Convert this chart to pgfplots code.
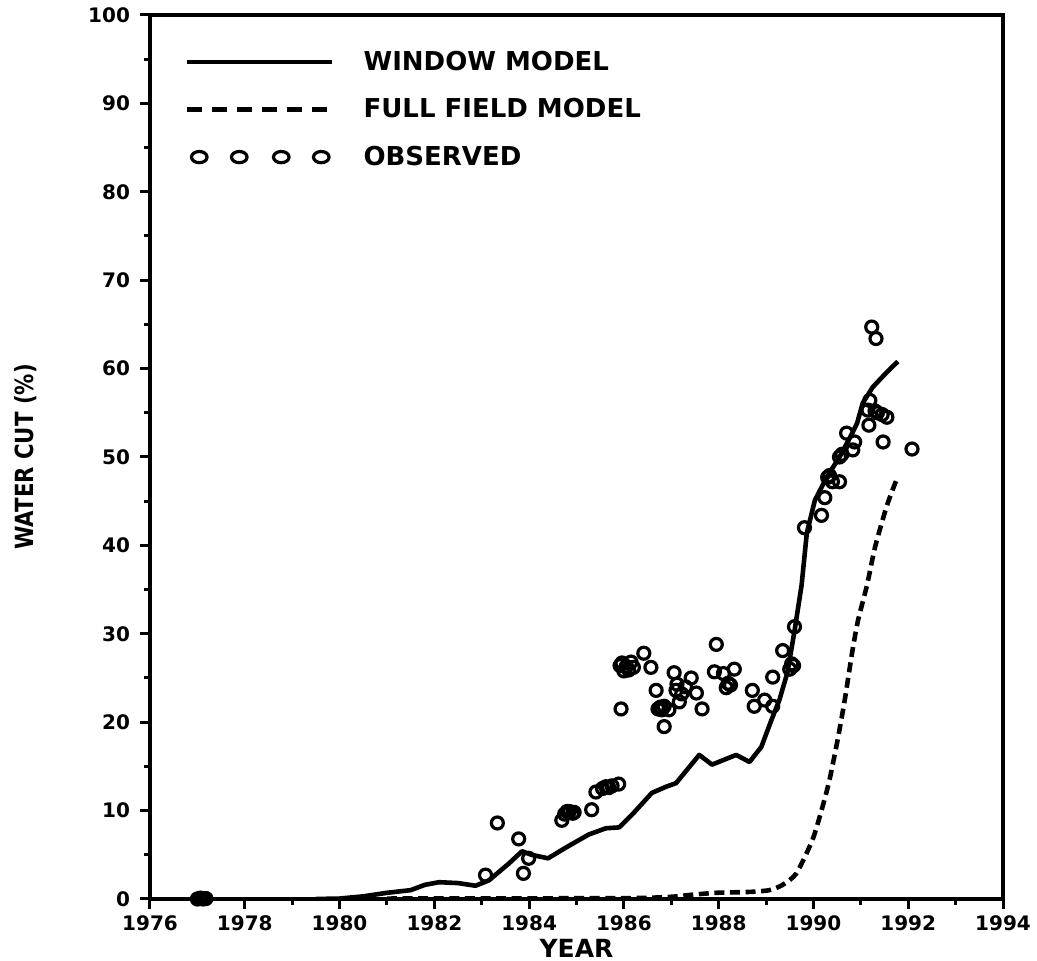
\documentclass[border=0pt]{standalone}
\usepackage{fontspec}
\setmainfont{DejaVu Sans}
\newfontfamily\condfont{DejaVu Sans}[FakeStretch=0.85]
\usepackage{pgfplots}
\pgfplotsset{compat=1.18}

% Legend samples: a long line, and a row of four open circles
\pgfplotsset{
  longline legend/.style={legend image code/.code={\draw[##1] (0pt,0pt) -- (72.5pt,0pt);}},
  circles legend/.style={legend image code/.code={%
    \path (0pt,0pt) (72.5pt,0pt);
    \foreach \x in {6pt,26pt,47pt,67pt}
      {\draw[black, line width=1.6pt] (\x,0pt) ellipse[x radius=3.9pt, y radius=2.8pt];}}},
}

% Simulated and observed water cut
\pgfplotstableread{
year wc
1979.5 0.0
1980.0 0.05
1980.5 0.3
1981.0 0.7
1981.5 1.0
1981.8 1.6
1982.1 1.9
1982.5 1.8
1982.87 1.5
1983.15 2.1
1983.57 4.0
1983.85 5.4
1984.05 5.0
1984.4 4.6
1984.77 5.8
1985.26 7.3
1985.62 8.0
1985.9 8.1
1986.2 9.7
1986.59 12.0
1986.89 12.7
1987.1 13.1
1987.59 16.3
1987.86 15.2
1988.37 16.3
1988.65 15.5
1988.9 17.2
1989.11 20.2
1989.28 22.5
1989.45 25.6
1989.6 30.3
1989.75 35.5
1989.86 41.4
1990.03 45.1
1990.28 47.7
1990.55 50.0
1990.8 52.5
1990.92 53.8
1991.04 56.1
1991.25 57.9
1991.55 59.6
1991.78 60.8
}\windowmodel

\pgfplotstableread{
year wc
1981.0 0.05
1986.0 0.1
1987.0 0.25
1987.38 0.45
1987.95 0.7
1988.65 0.8
1989.07 1.0
1989.35 1.6
1989.64 2.9
1989.98 6.7
1990.19 10.4
1990.34 13.5
1990.51 18.0
1990.66 22.5
1990.82 28.0
1990.94 31.5
1991.13 35.5
1991.3 39.8
1991.55 44.5
1991.78 47.8
}\fullfield

\pgfplotstableread{
year wc
1977.0 0.0
1977.06 0.1
1977.12 0.0
1977.18 0.05
1983.08 2.7
1983.33 8.6
1983.78 6.8
1983.99 4.6
1983.88 2.9
1984.69 8.9
1984.75 9.6
1984.8 9.9
1984.85 9.9
1984.92 9.7
1984.95 9.8
1985.32 10.1
1985.41 12.1
1985.55 12.5
1985.62 12.7
1985.68 12.6
1985.75 12.8
1985.89 13.0
1985.94 21.5
1985.92 26.4
1985.96 26.7
1986.0 25.8
1986.05 26.3
1986.1 25.9
1986.15 26.8
1986.2 26.2
1986.42 27.8
1986.57 26.2
1986.68 23.6
1986.72 21.5
1986.77 21.7
1986.8 21.4
1986.85 21.8
1986.95 21.4
1986.85 19.5
1987.06 25.6
1987.1 23.6
1987.12 24.3
1987.17 22.3
1987.22 23.2
1987.3 24.0
1987.42 25.0
1987.53 23.3
1987.65 21.5
1987.95 28.8
1987.91 25.7
1988.1 25.5
1988.16 23.9
1988.2 24.4
1988.25 24.2
1988.33 26.0
1988.71 23.6
1988.75 21.8
1988.97 22.5
1989.14 21.8
1989.14 25.1
1989.35 28.1
1989.5 26.0
1989.54 26.6
1989.58 26.4
1989.6 30.8
1989.81 42.0
1990.17 43.4
1990.24 45.4
1990.3 47.7
1990.34 47.9
1990.4 47.2
1990.55 47.2
1990.55 50.0
1990.6 50.3
1990.83 50.8
1990.87 51.7
1990.7 52.7
1991.15 55.3
1991.17 53.6
1991.19 56.4
1991.3 55.2
1991.35 55.0
1991.45 54.8
1991.55 54.5
1991.47 51.7
1992.08 50.9
1991.23 64.7
1991.32 63.4
}\observed

\begin{document}
\begin{tikzpicture}
\useasboundingbox (-75pt,-31pt) rectangle (443.5pt,449.5pt);
\begin{axis}[
  scale only axis,
  width=426.5pt, height=442pt,
  xmin=1976, xmax=1994, ymin=0, ymax=100,
  xtick={1976,1978,...,1994}, minor x tick num=1,
  ytick={0,10,...,100}, minor y tick num=1,
  tick pos=left, tick align=outside,
  major tick length=5pt, minor tick length=3pt,
  axis line style={line width=1.8pt},
  every tick/.style={black, line width=1.5pt},
  /pgf/number format/1000 sep={},
  /pgf/number format/assume math mode=true,
  ticklabel style={font=\fontsize{10}{12}\selectfont\bfseries},
  yticklabel style={xshift=-1.5pt},
  xlabel={YEAR},
  ylabel={WATER CUT (\%)},
  xlabel style={font=\fontsize{12.5}{15}\selectfont\bfseries,
    at={(axis description cs:0.5,-0.0554)}, anchor=center},
  ylabel style={font=\condfont\fontsize{12.5}{15}\selectfont\bfseries,
    at={(axis description cs:-0.1452,0.5)}, anchor=center},
  legend style={at={(rel axis cs:0.0410,0.9593)}, anchor=north west,
    draw=none, fill=none, inner sep=0pt, outer sep=0pt,
    row sep=12.6pt, column sep=0pt,
    font=\fontsize{13}{15}\selectfont\bfseries,
    nodes={inner sep=0pt},
    /tikz/every odd column/.append style={column sep=14.5pt}},
  legend cell align=left,
]
\addplot[black, line width=2.3pt, line join=round, longline legend]
  table[x=year, y=wc] {\windowmodel};
\addlegendentry{WINDOW MODEL}

\addlegendimage{black, line width=2.3pt, dash pattern=on 7.5pt off 5pt, longline legend}
\addlegendentry{FULL FIELD MODEL}

\addplot[black, only marks, mark=o, mark size=3pt,
  mark options={line width=1.6pt}, circles legend]
  table[x=year, y=wc] {\observed};
\addlegendentry{OBSERVED}

\addplot[black, line width=2.3pt, dash pattern=on 5pt off 2.8pt, smooth,
  tension=0.4, forget plot]
  table[x=year, y=wc] {\fullfield};
\end{axis}
\end{tikzpicture}
\end{document}
